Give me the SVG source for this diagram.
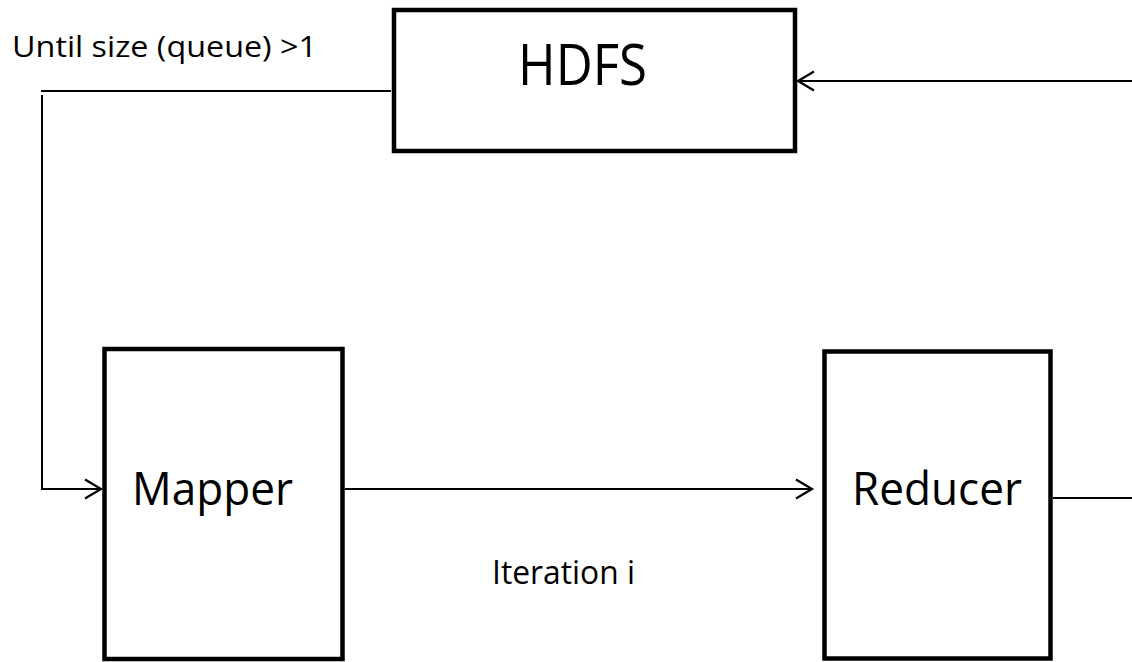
<svg xmlns="http://www.w3.org/2000/svg" width="1132" height="662" viewBox="0 0 1132 662">
  <style>
    .box { fill: #ffffff; stroke: #000000; stroke-width: 4.5; stroke-linejoin: miter; }
    .wire { fill: none; stroke: #000000; stroke-width: 2; }
    .big { font-family: "Open Sans", "Liberation Sans", sans-serif; fill: #000000; }
    .small { font-family: "Open Sans", "Liberation Sans", sans-serif; fill: #000000; }
  </style>
  <defs>
    <marker id="open-arrow" viewBox="-18 -11 20 22" refX="0" refY="0" markerWidth="20" markerHeight="22" markerUnits="userSpaceOnUse" orient="auto" overflow="visible">
      <path d="M-16,-9.5 L0,0 L-16,9.5" fill="none" stroke="#000000" stroke-width="2.2"/>
    </marker>
  </defs>
  <rect width="1132" height="662" fill="#ffffff"/>

  <!-- connectors -->
  <g id="connectors">
    <!-- HDFS feeds the mapper through the loop on the left -->
    <line class="wire" x1="391" y1="91" x2="41" y2="91"/>
    <polyline class="wire" points="42,95 42,489 101,489" marker-end="url(#open-arrow)"/>
    <!-- mapper to reducer -->
    <line class="wire" x1="345" y1="489" x2="812" y2="489" marker-end="url(#open-arrow)"/>
    <!-- reducer output back to HDFS -->
    <line class="wire" x1="1053" y1="498" x2="1132" y2="498"/>
    <line class="wire" x1="1132" y1="81" x2="798" y2="81" marker-end="url(#open-arrow)"/>
  </g>

  <g id="hdfs">
    <rect class="box" x="394" y="10" width="401" height="141"/>
    <text class="big" x="518" y="85" font-size="56" textLength="129" lengthAdjust="spacingAndGlyphs">HDFS</text>
  </g>

  <g id="mapper">
    <rect class="box" x="104.5" y="349" width="238" height="310"/>
    <text class="big" x="132" y="505" font-size="45" textLength="161" lengthAdjust="spacingAndGlyphs">Mapper</text>
  </g>

  <g id="reducer">
    <rect class="box" x="824.5" y="351.5" width="226" height="307"/>
    <text class="big" x="852" y="505" font-size="45" textLength="170" lengthAdjust="spacingAndGlyphs">Reducer</text>
  </g>

  <g id="labels">
    <text class="small" x="12" y="57" font-size="30" textLength="305" lengthAdjust="spacingAndGlyphs">Until size (queue) &gt;1</text>
    <text class="small" x="492" y="584" font-size="32" textLength="143" lengthAdjust="spacingAndGlyphs">Iteration i</text>
  </g>
</svg>
